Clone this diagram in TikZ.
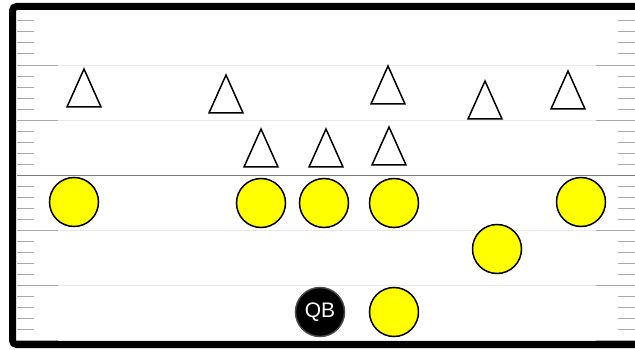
\documentclass[tikz,border=0pt]{standalone}
\usepackage{fontspec}
\setmainfont{Liberation Sans}
\usetikzlibrary{positioning}

\definecolor{hashgray}{HTML}{A8A8A8}
\definecolor{yardgray}{HTML}{E8E8E8}
\definecolor{losgray}{HTML}{7A7A7A}
\definecolor{playeryellow}{HTML}{FFFF00}

\tikzset{
  offense/.style={circle, draw=black, line width=1.5pt, fill=playeryellow, minimum size=49pt, inner sep=0pt},
  qb/.style={offense, fill=black, draw=black!70, text=white, font=\fontsize{21}{21}\selectfont},
  defense/.style={draw=black, line width=1.5pt, fill=white},
  hash/.style={hashgray, line width=0.9pt}
}

\begin{document}
\begin{tikzpicture}[x=1pt, y=-1pt]
			\useasboundingbox (0,0) rectangle (635,350);
			\clip (0,0) rectangle (635,350);
			% yard lines
			\foreach \y in {9.9,65,120.1,175.2,230.3,285.4,340.5} {
				\draw[yardgray, line width=0.9pt] (17,\y) -- (635,\y);
				\draw[hash] (17,\y) -- (58,\y);
				\draw[hash] (596,\y) -- (635,\y);
				\foreach \i in {1,...,4} {
					\pgfmathsetmacro{\h}{\y+11*\i}
					\draw[hash] (17,\h) -- (34,\h);
					\draw[hash] (618,\h) -- (635,\h);
				}
			}
			\draw[losgray, line width=1.5pt] (17,175.5) -- (635,175.5);
			\draw[line width=7pt, rounded corners=4pt] (650,6.5) -- (12.5,6.5) -- (12.5,344.5) -- (650,344.5);
			% defense
			\foreach \x/\y in {84/107, 226/113, 388/104, 485/119, 568/109, 261/167, 326/167, 389/165} {
				\draw[defense] (\x-17,\y) -- (\x,\y-38) -- (\x+17,\y) -- cycle;
			}
			% offense
			\node[offense] (se) at (74,202) {};
			\node[offense] (lg) at (261,203) {};
			\node[offense] (oc) at (324,203) {};
			\node[offense] (rg) at (394,203) {};
			\node[offense] (te) at (581,202) {};
			\node[offense] (wing) at (497,249) {};
			\node[qb] (qb) at (320,312) {QB};
			\node[offense] (rb) at (394,312) {};
		\end{tikzpicture}
\end{document}
